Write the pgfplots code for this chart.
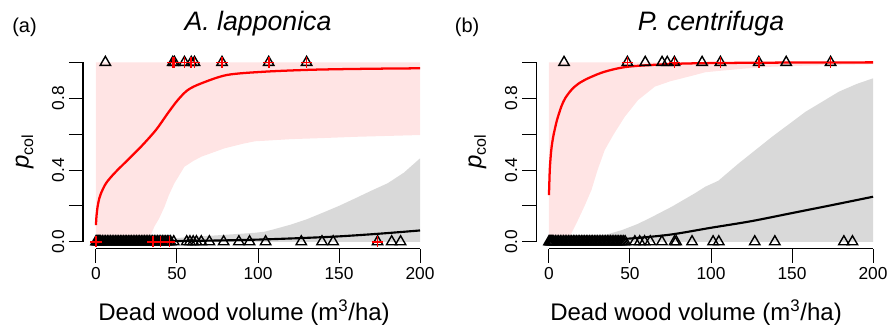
\documentclass[border=0pt]{standalone}
\usepackage{fontspec}
\setmainfont{Liberation Sans}
\usepackage{pgfplots}
\pgfplotsset{compat=1.18}
\definecolor{pinkband}{RGB}{255,228,228}
\definecolor{grayband}{RGB}{217,217,217}
\pgfplotsset{rpanel/.style={
  scale only axis, width=262.5pt, height=145.3pt,
  xmin=-8,xmax=208,ymin=-0.04,ymax=1.04,
  axis x line*=bottom, axis y line*=left,
  axis line style={draw=none},
  xtick={0,50,100,150,200}, xticklabels={0,50,100,150,200},
  ytick={0,0.2,0.4,0.6,0.8,1}, yticklabels={0.0,,0.4,,0.8,},
  tick align=outside, major tick length=10.5pt,
  tick style={black, line width=0.75pt},
  ticklabel style={font=\fontsize{13}{15}\selectfont},
  yticklabel style={rotate=90, anchor=south},
  clip=false,
},
tri/.style={only marks, mark=triangle, mark size=4.5pt, mark options={line width=1.05pt, draw=black, fill=none}},
plus/.style={only marks, mark=+, mark size=4.3pt, mark options={line width=1.3pt, draw=red}},
}
\begin{document}
\begin{tikzpicture}
\path[use as bounding box] (0,0) rectangle (665.25pt,246pt);
% ---------------- panel (a)
\begin{axis}[rpanel, at={(62.25pt,59.3pt)}, anchor=south west]
\addplot[fill=pinkband, draw=none] coordinates {
(0,1) (200,1) (200,0.595) (180,0.59) (160,0.585) (140,0.578) (120,0.572) (104,0.563) (98,0.56) (90,0.545) (79.4,0.521) (65,0.474) (60,0.45) (54.6,0.418) (48.4,0.326) (45,0.26) (42.3,0.195) (39,0.13) (36,0.084) (34,0.04) (32,0) (0,0)} -- cycle;
\addplot[fill=grayband, draw=none] coordinates {
(38,0) (45,0.015) (55,0.025) (70,0.033) (85,0.042) (98,0.05) (104,0.056) (110,0.07) (120,0.095) (130,0.125) (140,0.162) (150,0.2) (160,0.242) (170,0.285) (180,0.326) (190,0.385) (200,0.465) (200,0)} -- cycle;
\addplot[red, line width=1.7pt, smooth] coordinates {
(0,0.093) (0.3,0.14) (1,0.195) (2,0.24) (3.1,0.27) (6.2,0.326) (11.3,0.381) (19.6,0.456) (27.8,0.53) (37,0.623) (44.3,0.716) (50.5,0.79) (56.7,0.846) (65,0.883) (81,0.93) (104,0.948) (130,0.958) (150,0.962) (175,0.965) (200,0.967)};
\addplot[black, line width=1.6pt, smooth] coordinates {
(0,0.001) (25,0.002) (50,0.004) (75,0.007) (100,0.012) (125,0.02) (150,0.03) (175,0.045) (200,0.063)};
\addplot[tri] coordinates {
(0,0) (0.5,0) (1,0) (1.5,0) (2,0) (2.5,0) (3,0) (4,0) (5,0) (6,0) (7,0) (8,0) (9,0) (10,0) (11,0) (12,0) (13,0) (14,0) (15,0) (16,0) (17,0) (18,0) (19,0) (20,0) (21,0) (22,0) (23,0) (24,0) (25,0) (26,0) (27,0) (28,0) (29,0) (30,0) (31,0) (32,0) (33,0) (34,0) (35,0) (36,0) (37,0) (38,0) (39,0) (40,0) (41,0) (42,0) (43,0) (44,0) (45,0) (46,0) (48,0)
(56,0) (58,0) (60,0) (62,0) (65,0) (70,0) (78.8,0) (88.2,0) (94.8,0) (104.7,0) (126.7,0) (139.5,0) (146.4,0) (173.8,0) (182.5,0) (188,0)
(5.8,1) (47.4,1) (48.4,1) (54.6,1) (58.8,1) (60.8,1) (77.8,1) (106.6,1) (130,1)};
\addplot[plus] coordinates {
(0,0) (35,0) (39.8,0) (45.3,0) (173.8,0)
(47.4,1) (48.4,1) (54.6,1) (58.8,1) (60.8,1) (77.8,1) (106.6,1) (130,1)};
\draw[line width=0.75pt] (axis cs:0,-0.04) -- (axis cs:200,-0.04);
\draw[line width=0.75pt] (axis cs:-8,0) -- (axis cs:-8,1);
\end{axis}
% ---------------- panel (b)
\begin{axis}[rpanel, at={(402pt,59.3pt)}, anchor=south west]
\addplot[fill=pinkband, draw=none] coordinates {
(0,1) (200,1) (200,0.99) (170,0.985) (137.8,0.976) (120,0.965) (104.5,0.952) (96.5,0.945) (86,0.92) (75,0.895) (65.4,0.865) (55,0.79) (46.8,0.697) (40,0.6) (34.4,0.511) (30,0.4) (26.2,0.288) (22,0.2) (17.9,0.121) (14,0.05) (10.7,0) (0,0)} -- cycle;
\addplot[fill=grayband, draw=none] coordinates {
(12,0) (20,0.01) (34.4,0.037) (45,0.065) (55,0.10) (65,0.145) (75.7,0.195) (90,0.27) (96.5,0.307) (104.5,0.34) (117.1,0.437) (137.8,0.586) (158.4,0.725) (179,0.837) (190,0.88) (200,0.911) (200,0)} -- cycle;
\addplot[red, line width=1.7pt, smooth] coordinates {
(0,0.26) (0.3,0.35) (0.6,0.418) (1.4,0.51) (2.5,0.58) (3.5,0.623) (5,0.68) (7.6,0.753) (10,0.8) (13.8,0.846) (18,0.88) (24.1,0.911) (34.4,0.948) (48.9,0.976) (75.7,0.991) (100,0.996) (150,0.999) (200,1.0)};
\addplot[black, line width=1.6pt, smooth] coordinates {
(0,0.002) (25,0.006) (50,0.018) (75,0.04) (100,0.078) (125,0.115) (150,0.16) (175,0.205) (200,0.251)};
\addplot[tri] coordinates {
(0,0) (0.5,0) (1,0) (1.5,0) (2,0) (2.5,0) (3,0) (4,0) (5,0) (6,0) (7,0) (8,0) (9,0) (10,0) (11,0) (12,0) (13,0) (14,0) (15,0) (16,0) (17,0) (18,0) (19,0) (20,0) (21,0) (22,0) (23,0) (24,0) (25,0) (26,0) (27,0) (28,0) (29,0) (30,0) (31,0) (32,0) (33,0) (34,0) (35,0) (36,0) (37,0) (38,0) (39,0) (40,0) (41,0) (42,0) (43,0) (44,0) (45,0) (46,0) (47,0)
(53,0) (56,0) (59,0) (62.5,0) (69.7,0) (77.5,0) (78.5,0) (88.3,0) (101.3,0) (104.8,0) (127,0) (139.4,0) (182,0) (187.3,0)
(9.3,1) (48.4,1) (59.4,1) (69.8,1) (73,1) (77.4,1) (94.5,1) (105.8,1) (129.5,1) (146.4,1) (173.8,1)};
\addplot[plus] coordinates {
(48.4,1) (77.4,1) (105.8,1) (129.5,1) (173.8,1)};
\draw[line width=0.75pt] (axis cs:0,-0.04) -- (axis cs:200,-0.04);
\draw[line width=0.75pt] (axis cs:-8,0) -- (axis cs:-8,1);
\end{axis}
% ---------------- labels
\node[anchor=base west, font=\fontsize{15}{18}\selectfont, inner sep=0pt] at (9pt,221.25pt) {(a)};
\node[anchor=base west, font=\fontsize{15}{18}\selectfont, inner sep=0pt] at (341pt,221.25pt) {(b)};
\node[anchor=base, font=\fontsize{20}{24}\selectfont\itshape, inner sep=0pt] at (193.5pt,222.75pt) {A. lapponica};
\node[anchor=base, font=\fontsize{20}{24}\selectfont\itshape, inner sep=0pt] at (533.25pt,222.75pt) {P. centrifuga};
\node[anchor=base, font=\fontsize{18}{22}\selectfont, inner sep=0pt] at (183pt,6pt) {Dead wood volume (m\textsuperscript{3}/ha)};
\node[anchor=base, font=\fontsize{18}{22}\selectfont, inner sep=0pt] at (522pt,6pt) {Dead wood volume (m\textsuperscript{3}/ha)};
\node[anchor=base, rotate=90, font=\fontsize{18}{22}\selectfont, inner sep=0pt] at (21.5pt,132pt) {\textit{p}\raisebox{-0.35ex}{\fontsize{12}{12}\selectfont col}};
\node[anchor=base, rotate=90, font=\fontsize{18}{22}\selectfont, inner sep=0pt] at (361pt,132pt) {\textit{p}\raisebox{-0.35ex}{\fontsize{12}{12}\selectfont col}};
\end{tikzpicture}
\end{document}
